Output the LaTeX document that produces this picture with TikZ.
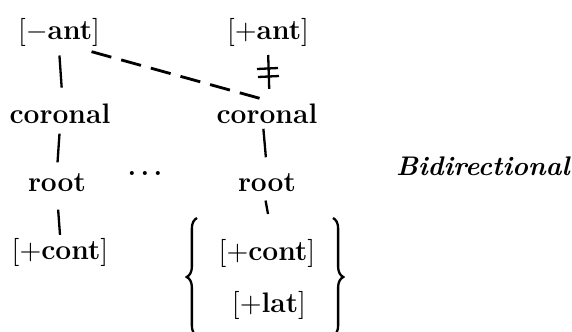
\documentclass[tikz,border=0pt]{standalone}
\usetikzlibrary{decorations.pathreplacing}
\begin{document}
\begin{tikzpicture}[x=0.39pt, y=-0.39pt,
  feat/.style={font=\fontsize{11}{13}\selectfont\bfseries, inner sep=1pt, anchor=base},
  link/.style={line width=0.9pt},
  grp/.style={decorate, decoration={brace, amplitude=4pt}, line width=0.9pt}]
  \useasboundingbox (0,0) rectangle (572,331);
  % left column
  \node[feat] (antL) at (59,39) {$[-$ant$]$};
  \node[feat] (corL) at (60,123) {coronal};
  \node[feat] (rootL) at (57,191) {root};
  \node[feat] (contL) at (60,259) {$[+$cont$]$};
  % right column
  \node[feat] (antR) at (268,39) {$[+$ant$]$};
  \node[feat] (corR) at (267,123) {coronal};
  \node[feat] (rootR) at (267,191) {root};
  \node[feat] (contR) at (267,260) {$[+$cont$]$};
  \node[feat] (latR) at (269,312) {$[+$lat$]$};
  \node[anchor=base, font=\boldmath] (dots) at (145,175) {$\ldots$};
  \node[anchor=base east, inner sep=0pt, font=\fontsize{10.5}{12}\selectfont\bfseries\itshape] (mode) at (570,175) {Bidirectional};
  % association lines
  \draw[link, shorten <=2.5pt, shorten >=5pt] (antL.south) -- ([xshift=1pt]corL.north);
  \draw[link, shorten <=2.9pt, shorten >=3pt] (corL.south) -- (rootL.north);
  \draw[link, shorten <=6pt] (rootL.south) -- (contL.north);
  \draw[link, shorten <=2.3pt, shorten >=4.5pt] (antR.south) -- ([xshift=1pt]corR.north);
  \draw[link, shorten <=1pt, shorten >=5pt] ([xshift=-1.5pt]corR.south) -- (rootR.north);
  \coordinate (top) at (268,214);
  \draw[link, shorten <=2.5pt] ([xshift=-1pt]rootR.south) -- (top);
  % delinking bars
  \coordinate (bar) at (268,72);
  \draw[link] ([shift={(-11,-3)}]bar) -- ++(21,-1);
  \draw[link] ([shift={(-10,5)}]bar) -- ++(21,-1);
  % spreading
  \draw[line width=1.1pt, dash pattern=on 8pt off 4pt, shorten >=1pt]
    ([xshift=-4.5pt,yshift=-1pt]antL.south east) -- (corR.north);
  % braces
  \draw[grp] (197,336) -- (197,218);
  \draw[grp] (333,218) -- (333,336);
\end{tikzpicture}
\end{document}
